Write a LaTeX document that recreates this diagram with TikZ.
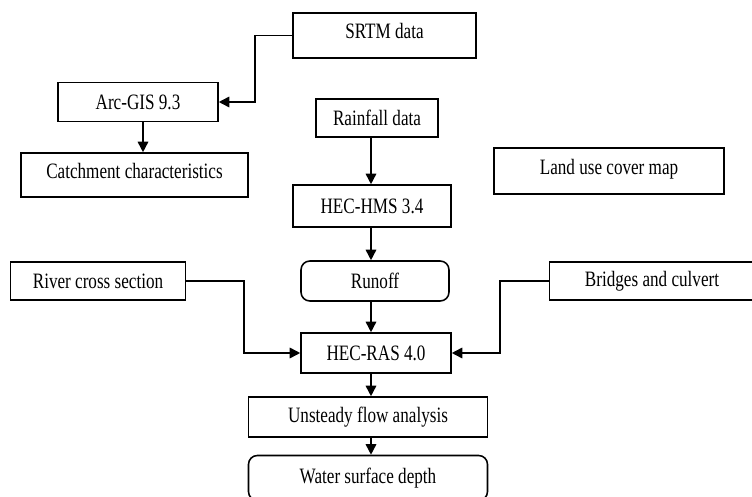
\documentclass[tikz,border=0pt]{standalone}
\usepackage{fontspec}
\setmainfont{Liberation Serif}[FakeStretch=0.78]
\usetikzlibrary{arrows.meta}

\begin{document}
\begin{tikzpicture}[x=0.02cm, y=-0.02cm,
  every node/.style={font=\fontsize{12.5pt}{14pt}\selectfont},
  box/.style={draw, line width=0.9pt, inner sep=0pt},
  rbox/.style={box, rounded corners=5pt},
  raised/.style={text depth=5pt},
  flow/.style={line width=0.9pt, -{Triangle[length=6pt,width=6pt]}}]

\useasboundingbox (0,0) rectangle (752,497);
\clip (0,0) rectangle (752,497);

\node[box, raised, minimum width=3.66cm, minimum height=0.90cm] (srtm) at (384.5,35.5) {SRTM data};
\node[box, minimum width=3.20cm, minimum height=0.78cm] (arcgis) at (138,102) {Arc-GIS 9.3};
\node[box, raised, minimum width=4.54cm, minimum height=0.88cm] (catch) at (134.5,175) {Catchment characteristics};
\node[box, minimum width=2.44cm, minimum height=0.76cm] (rain) at (377,118) {Rainfall data};
\node[box, raised, minimum width=4.60cm, minimum height=0.92cm] (landuse) at (609,171) {Land use cover map};
\node[box, minimum width=3.16cm, minimum height=0.84cm] (hms) at (372,206) {HEC-HMS 3.4};
\node[rbox, minimum width=2.96cm, minimum height=0.80cm] (runoff) at (375,281) {Runoff};
\node[box, minimum width=3.50cm, minimum height=0.76cm] (river) at (98,281) {River cross section};
\node[box, minimum width=4.10cm, minimum height=0.76cm] (bridges) at (652,281) {Bridges and culvert};
\node[box, minimum width=3.00cm, minimum height=0.80cm] (hecras) at (376,353) {HEC-RAS 4.0};
\node[box, minimum width=4.78cm, minimum height=0.80cm] (unsteady) at (368,417) {Unsteady flow analysis};
\node[rbox, minimum width=4.78cm, minimum height=0.90cm] (water) at (368,478) {Water surface depth};

% inputs
\draw[flow] (srtm.west) -- ++(-37,0) |- (arcgis.east);
\draw[flow] (arcgis.south -| 143,0) -- (catch.north -| 143,0);
\draw[flow] (rain.south -| 371,0) -- (hms.north -| 371,0);
\draw[flow] (river.east) -- ++(58,0) |- (hecras.west);
\draw[flow] (bridges.west) -- ++(-49,0) |- (hecras.east);

% main line
\draw[flow] (hms.south -| 371,0) -- (runoff.north -| 371,0);
\draw[flow] (runoff.south -| 371,0) -- (hecras.north -| 371,0);
\draw[flow] (hecras.south -| 371,0) -- (unsteady.north -| 371,0);
\draw[flow] (unsteady.south -| 371,0) -- (water.north -| 371,0);

\end{tikzpicture}
\end{document}
